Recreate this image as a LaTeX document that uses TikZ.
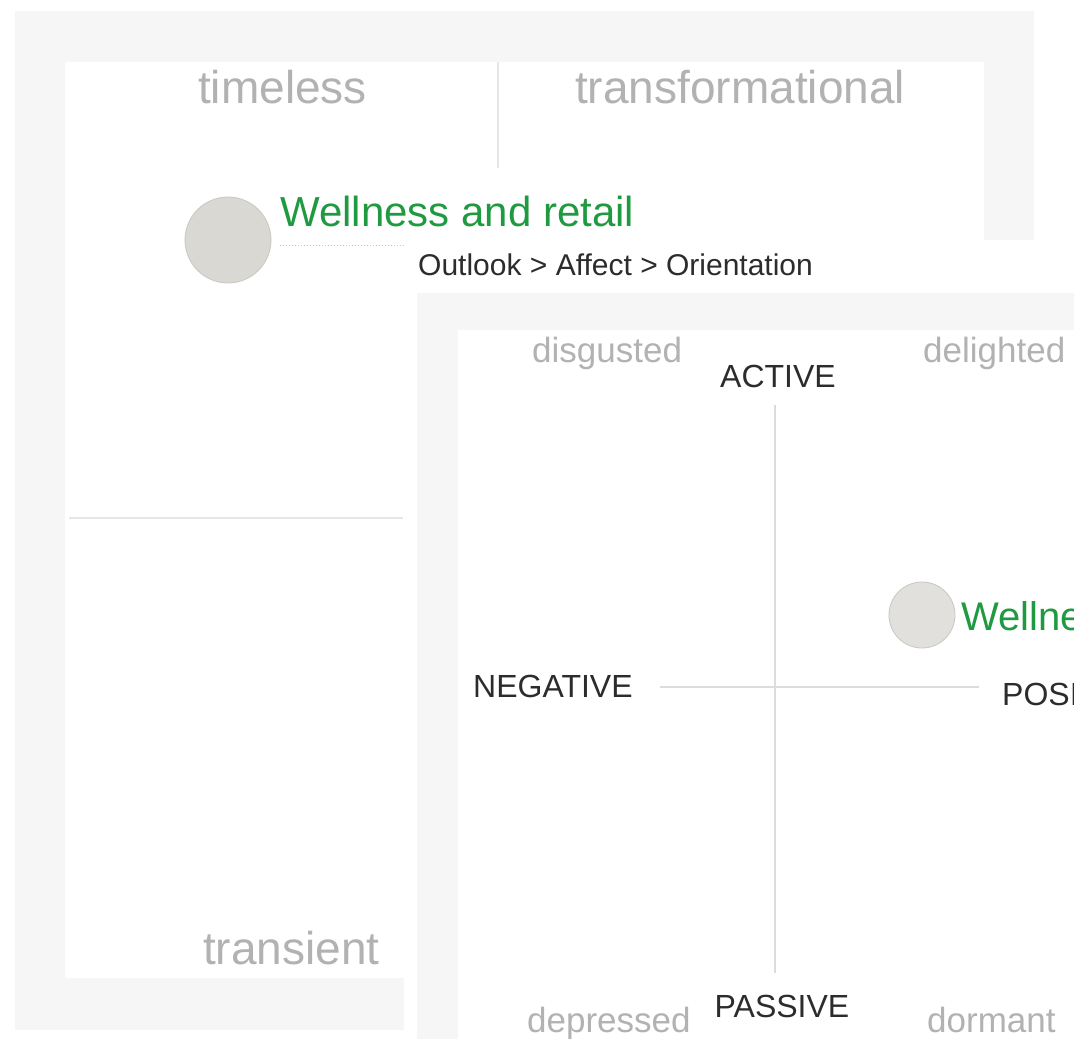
\documentclass[tikz,border=0pt]{standalone}
\usepackage{fontspec}
\setmainfont{Liberation Sans}
\usetikzlibrary{positioning}

\definecolor{framegray}{HTML}{F6F6F6}
\definecolor{linegray}{HTML}{E6E6E6}
\definecolor{axisgray}{HTML}{DCDCDC}
\definecolor{labelgray}{HTML}{B2B2B2}
\definecolor{textdark}{HTML}{2C2C2C}
\definecolor{wellgreen}{HTML}{1F9A40}
\definecolor{dotfill}{HTML}{DAD8D3}
\definecolor{dotline}{HTML}{C9C7C2}

\begin{document}
\begin{tikzpicture}[x=1pt, y=-1pt, inner sep=0pt]
    \tikzstyle{frame} = [fill=framegray]
    \tikzstyle{pane} = [fill=white]
    \tikzstyle{divider} = [draw=linegray, line width=1.2pt]
    \tikzstyle{axis} = [draw=axisgray, line width=1.5pt]
    \tikzstyle{span} = [text=labelgray, font=\fontsize{46}{50}\selectfont, anchor=base west]
    \tikzstyle{mood} = [text=labelgray, font=\fontsize{35}{40}\selectfont, anchor=base west]
    \tikzstyle{pole} = [text=textdark, font=\fontsize{32}{36}\selectfont]
    \tikzstyle{item} = [text=wellgreen, font=\fontsize{42}{46}\selectfont, anchor=base west]
    \tikzstyle{dot} = [circle, draw=dotline, line width=0.8pt, fill=dotfill]

    \path [use as bounding box, clip] (0,0) rectangle (1074,1039);
    \fill [white] (0,0) rectangle (1074,1039);

    % back panel: time scale
    \fill [frame] (15,11) rectangle (1034,1030);
    \fill [pane] (65,62) rectangle (984,978);
    \draw [divider] (498,62) -- (498,168);
    \draw [divider] (69,518) -- (403,518);

    \node [span] (timeless) at (198,103) {timeless};
    \node [span] (transformational) at (575,103) {transformational};
    \node [span] (transient) at (203,964) {transient};

    \node [dot, minimum size=86pt] (dot1) at (228,240) {};
    \node [item] (well1) at (280,226) {Wellness and retail};
    \coordinate (trail) at (470,245);
    \draw [dotline, dotted, line width=1pt, shorten <=9pt] (dot1.east |- trail) -- (trail);

    % front panel: affect
    \fill [pane] (404,240) rectangle (1080,1045);
    \node [pole, anchor=base west, font=\fontsize{30}{34}\selectfont] (title) at (418,275) {Outlook > Affect > Orientation};
    \fill [frame] (417,293) rectangle (1080,1045);
    \fill [pane] (458,330) rectangle (1080,1045);

    \node [mood] (disgusted) at (532,362) {disgusted};
    \node [mood] (delighted) at (923,362) {delighted};
    \node [mood] (depressed) at (527,1032) {depressed};
    \node [mood] (dormant) at (927,1032) {dormant};

    \node [pole, anchor=base] (active) at (778,387) {ACTIVE};
    \node [pole, anchor=base] (passive) at (782,1017) {PASSIVE};
    \node [pole, anchor=base west] (negative) at (473,697) {NEGATIVE};
    \node [pole, anchor=base west] (positive) at (1002,705) {POSITIVE};

    \coordinate (vtop) at (775,405);
    \coordinate (vbot) at (775,973);
    \coordinate (hleft) at (660,687);
    \coordinate (hright) at (979,687);
    \draw [axis] (vtop) -- (vbot);
    \draw [axis] (hleft) -- (hright);

    \node [dot, minimum size=66pt, fill=dotfill!80!white] (dot2) at (922,615) {};
    \node [item, font=\fontsize{40}{44}\selectfont] (well2) at (961,630) {Wellness and retail};
\end{tikzpicture}
\end{document}
